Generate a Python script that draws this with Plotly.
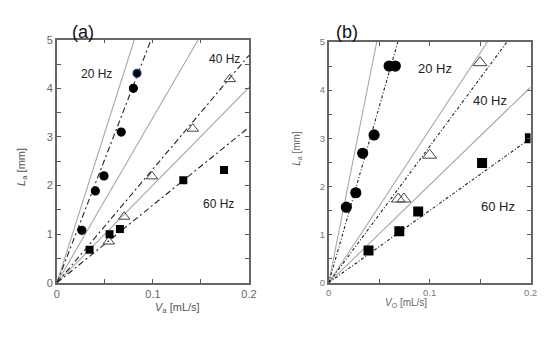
import plotly.graph_objects as go

# ---------------- data ----------------
# Panel (a)
a_c20_x = [0.026, 0.040, 0.049, 0.067, 0.0796, 0.0834]
a_c20_y = [1.08, 1.89, 2.2, 3.1, 4.0, 4.31]
a_t40_x = [0.054, 0.070, 0.099, 0.1415, 0.180]
a_t40_y = [0.85, 1.36, 2.19, 3.17, 4.19]
a_s60_x = [0.034, 0.0548, 0.0656, 0.1316, 0.174]
a_s60_y = [0.68, 1.0, 1.11, 2.11, 2.32]
a_solid_slopes = [62.0, 34.0, 20.1]
a_fit_slopes = [51.0, 23.4, 16.0]

# Panel (b)
b_c20_x = [0.0175, 0.0269, 0.0337, 0.045, 0.0599, 0.066]
b_c20_y = [1.57, 1.87, 2.69, 3.07, 4.5, 4.5]
b_t40_x = [0.069, 0.0745, 0.100, 0.150]
b_t40_y = [1.74, 1.74, 2.65, 4.57]
b_s60_x = [0.0395, 0.070, 0.0887, 0.152, 0.1994]
b_s60_y = [0.67, 1.07, 1.48, 2.49, 3.0]
b_solid_slopes = [105.0, 31.8, 20.3]
b_fit_slopes = [73.0, 28.3, 15.0]

freq_labels = ["20 Hz", "40 Hz", "60 Hz"]
x_ticks = [0, 0.1, 0.2]
x_ticktext = ["0", "0.1", "0.2"]
y_ticks = [0, 1, 2, 3, 4, 5]

XMAX, YMAX = 0.2, 5.0

fig = go.Figure()


def line_from_origin(slope):
    xe = min(XMAX, YMAX / slope)
    return [0, xe], [0, slope * xe]


def add_panel(xa, ya, solids, fits, c, t, s, msize, fitdash, edge_colors=None):
    for sl in solids:
        lx, ly = line_from_origin(sl)
        fig.add_trace(go.Scatter(x=lx, y=ly, mode="lines", xaxis=xa, yaxis=ya,
                                 line=dict(color="#a8a8a8", width=1.1), showlegend=False))
    for sl in fits:
        lx, ly = line_from_origin(sl)
        fig.add_trace(go.Scatter(x=lx, y=ly, mode="lines", xaxis=xa, yaxis=ya,
                                 line=dict(color="#222222", width=1.1, dash=fitdash), showlegend=False))
    fig.add_trace(go.Scatter(x=c[0], y=c[1], mode="markers", xaxis=xa, yaxis=ya,
                             marker=dict(symbol="circle", size=msize, color="black",
                                         line=dict(color=edge_colors or "black", width=1.2)),
                             showlegend=False))
    fig.add_trace(go.Scatter(x=t[0], y=t[1], mode="markers", xaxis=xa, yaxis=ya,
                             marker=dict(symbol="triangle-up-open", size=msize + 2, color="#444",
                                         line=dict(width=1)),
                             showlegend=False))
    fig.add_trace(go.Scatter(x=s[0], y=s[1], mode="markers", xaxis=xa, yaxis=ya,
                             marker=dict(symbol="square", size=msize, color="black"),
                             showlegend=False))


edge_a = ["black"] * (len(a_c20_x) - 1) + ["#1a3c8c"]
add_panel("x", "y", a_solid_slopes, a_fit_slopes,
          (a_c20_x, a_c20_y), (a_t40_x, a_t40_y), (a_s60_x, a_s60_y), 8,
          "6px,3px,2px,3px", edge_a)
add_panel("x2", "y2", b_solid_slopes, b_fit_slopes,
          (b_c20_x, b_c20_y), (b_t40_x, b_t40_y), (b_s60_x, b_s60_y), 10,
          "3px,2px,1px,2px")

axis_common = dict(showgrid=False, zeroline=False, showline=True, linecolor="#666",
                   linewidth=1.5, mirror="ticks", ticks="inside", ticklen=4,
                   tickcolor="#555")

fig.update_layout(
    width=550, height=339,
    margin=dict(l=0, r=0, t=0, b=0),
    paper_bgcolor="white", plot_bgcolor="white",
    xaxis=dict(domain=[0.1, 0.4564], range=[0, XMAX], tickvals=x_ticks, ticktext=x_ticktext,
               minor=dict(dtick=0.05, ticks="inside", ticklen=4, tickcolor="#555"),
               anchor="y", tickfont=dict(family="Liberation Sans", color="#666", size=11), **axis_common),
    yaxis=dict(domain=[0.1534, 0.8968], range=[0, YMAX], tickvals=y_ticks,
               minor=dict(dtick=0.5, ticks="inside", ticklen=4, tickcolor="#555"),
               anchor="x", tickfont=dict(family="Liberation Sans", color="#666", size=11), **axis_common),
    xaxis2=dict(domain=[0.6042, 0.9787], range=[0, XMAX], tickvals=x_ticks, ticktext=x_ticktext,
                minor=dict(dtick=0.05, ticks="inside", ticklen=4, tickcolor="#555"),
                anchor="y2", tickfont=dict(family="Liberation Sans", color="#777", size=9.5), **axis_common),
    yaxis2=dict(domain=[0.1534, 0.89], range=[0, YMAX], tickvals=y_ticks,
                minor=dict(dtick=0.5, ticks="inside", ticklen=4, tickcolor="#555"),
                anchor="x2", tickfont=dict(family="Liberation Sans", color="#777", size=9.5), **axis_common),
)

ann_font = dict(family="Liberation Sans", size=12, color="#222")
ann = []
# frequency labels panel (a)
for txt, x, y in zip(freq_labels, [0.0408, 0.175, 0.168], [4.29, 4.6, 1.63]):
    ann.append(dict(text=txt, x=x, y=y, xref="x", yref="y", showarrow=False, font=ann_font))
# frequency labels panel (b)
for txt, x, y in zip(freq_labels, [0.105, 0.16, 0.168], [4.44, 3.79, 1.58]):
    ann.append(dict(text=txt, x=x, y=y, xref="x2", yref="y2", showarrow=False,
                    font=dict(family="Liberation Sans", size=13, color="#222")))
# panel letters
ann.append(dict(text="(a)", x=68 / 550, y=1 - 15 / 339, xref="paper", yref="paper", showarrow=False,
                font=dict(family="Liberation Sans", size=18, color="#111")))
ann.append(dict(text="(b)", x=351 / 550, y=1 - 15 / 339, xref="paper", yref="paper", showarrow=False,
                font=dict(family="Liberation Sans", size=18, color="#111")))
# axis titles
ann.append(dict(text="<i>V</i><sub>a</sub> [mL/s]", x=153 / 550, y=1 - 322 / 339, xref="paper", yref="paper",
                showarrow=False, font=dict(family="Liberation Sans", size=11, color="#555")))
ann.append(dict(text="<i>V</i><sub>O</sub> [mL/s]", x=435 / 550, y=1 - 316 / 339, xref="paper", yref="paper",
                showarrow=False, font=dict(family="Liberation Sans", size=10, color="#666")))
ann.append(dict(text="<i>L</i><sub>a</sub> [mm]", x=10 / 550, y=1 - 167 / 339, xref="paper", yref="paper",
                showarrow=False, textangle=-90, font=dict(family="Liberation Sans", size=11, color="#555")))
ann.append(dict(text="<i>L</i><sub>a</sub> [mm]", x=300 / 550, y=1 - 148 / 339, xref="paper", yref="paper",
                showarrow=False, textangle=-90, font=dict(family="Liberation Sans", size=10, color="#666")))
fig.update_layout(annotations=ann)

fig.write_html("out.html", config={"displayModeBar": False},
               post_script="document.body.style.margin='0';")
